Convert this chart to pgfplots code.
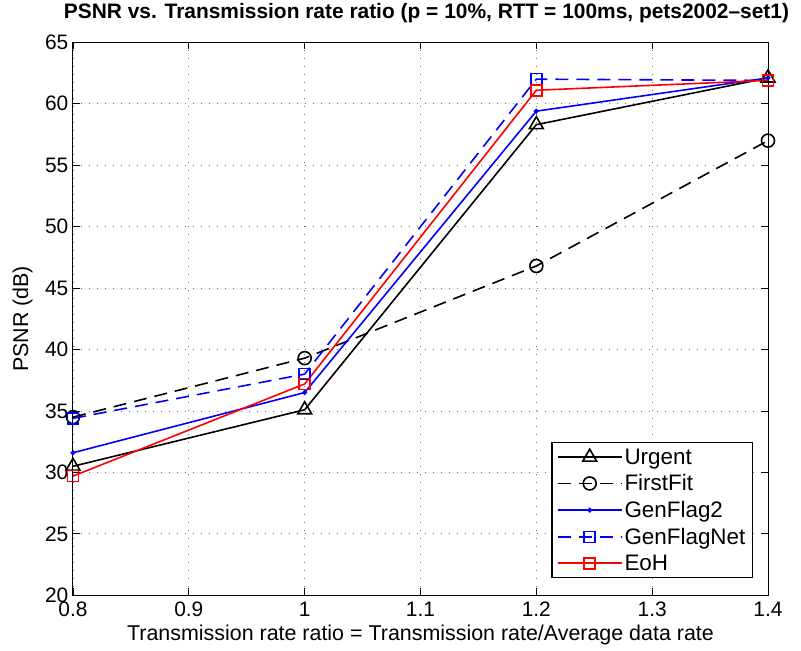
\documentclass[border=0pt]{standalone}
\usepackage{pgfplots}
\pgfplotsset{compat=1.18}
\usepackage{fontspec}
\setmainfont{Liberation Sans}
\begin{document}
\begin{tikzpicture}
\begin{axis}[
  width=695bp, height=553bp, scale only axis,
  xmin=0.8, xmax=1.4, ymin=20, ymax=65,
  xtick={0.8,0.9,1,1.1,1.2,1.3,1.4},
  xticklabels={0.8,0.9,1,1.1,1.2,1.3,1.4},
  ytick={20,25,...,65},
  grid=major,
  major grid style={black!55, dash pattern=on 1.2bp off 6.8bp, line width=0.8bp},
  tick align=inside, tick pos=both,
  major tick length=7bp,
  tick style={black, line width=0.8bp},
  axis line style={black, line width=1bp},
  /pgf/number format/assume math mode=true,
  tick label style={font=\fontsize{21}{25}\selectfont},
  xticklabel style={inner sep=1bp, yshift=-5.5bp},
  yticklabel style={inner sep=1bp, xshift=-3.5bp},
  label style={font=\fontsize{21.5}{25}\selectfont},
  title style={font=\bfseries\fontsize{21}{25}\selectfont, yshift=10bp, xshift=6bp},
  title={PSNR vs. Transmission rate ratio (p = 10\%, RTT = 100ms, pets2002--set1)},
  xlabel={Transmission rate ratio = Transmission rate/Average data rate},
  ylabel={PSNR (dB)},
  xlabel style={yshift=-4bp},
  ylabel style={yshift=8bp},
  legend style={at={(1,0)}, anchor=south east, xshift=-15bp, yshift=17bp, font=\fontsize{22.5}{26}\selectfont, draw=black, line width=1.3bp, row sep=5bp, inner xsep=5bp, inner ysep=4bp},
  legend cell align=left,
  legend image code/.code={\draw[mark repeat=2, mark phase=2] plot coordinates {(0bp,0bp) (32bp,0bp) (64bp,0bp)};},
  every axis plot/.append style={line width=1.6bp},
]
\coordinate (o) at (rel axis cs:0,0);
\addplot[black, mark=triangle, mark size=8bp, mark options={solid, line width=1.6bp}] coordinates {(0.8,30.5) (1.0,35.1) (1.2,58.3) (1.4,62.1)};
\addlegendentry{Urgent}
\addplot[black, dash pattern=on 13bp off 8bp, mark=o, mark size=6.5bp, mark options={solid, line width=1.6bp}] coordinates {(0.8,34.5) (1.0,39.3) (1.2,46.8) (1.4,57.0)};
\addlegendentry{FirstFit}
\addplot[blue, mark=*, mark size=1.6bp, mark options={solid}] coordinates {(0.8,31.6) (1.0,36.5) (1.2,59.4) (1.4,62.1)};
\addlegendentry{GenFlag2}
\addplot[blue, dash pattern=on 13bp off 8bp, mark=square, mark size=5.5bp, mark options={solid, line width=1.6bp}] coordinates {(0.8,34.4) (1.0,38.0) (1.2,62.0) (1.4,61.9)};
\addlegendentry{GenFlagNet}
\addplot[red, mark=square, mark size=5.5bp, mark options={solid, line width=1.6bp}] coordinates {(0.8,29.7) (1.0,37.2) (1.2,61.1) (1.4,61.9)};
\addlegendentry{EoH}
\end{axis}
\path ([xshift=-73bp,yshift=-55bp]o) rectangle ++(801bp,650bp);
\end{tikzpicture}
\end{document}
